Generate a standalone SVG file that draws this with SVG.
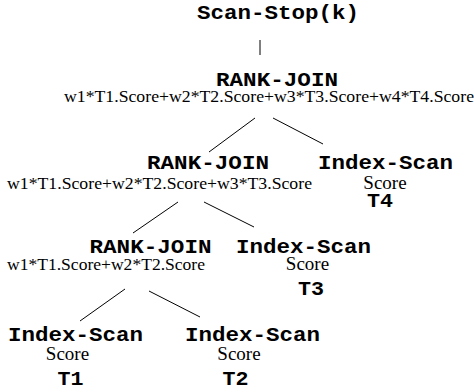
<svg xmlns="http://www.w3.org/2000/svg" width="474" height="392" viewBox="0 0 474 392">
<style>
.m{font-family:"Liberation Mono","Courier New",monospace;font-weight:bold;font-size:20px;fill:#000;text-anchor:middle}
.s{font-family:"Liberation Serif","Times New Roman",serif;font-size:17.6px;fill:#000}
.sc{font-family:"Liberation Serif","Times New Roman",serif;font-size:19px;fill:#000;text-anchor:middle}
.e{stroke:#000;stroke-width:1;fill:none}
</style>
<rect width="474" height="392" fill="#fff"/>
<g id="connectors">
<line class="e" x1="260" y1="40" x2="260" y2="55"/>
<line class="e" x1="255" y1="118" x2="209" y2="152"/>
<line class="e" x1="273" y1="118" x2="323" y2="144"/>
<line class="e" x1="178" y1="202" x2="133" y2="233"/>
<line class="e" x1="204" y1="202" x2="254" y2="227"/>
<line class="e" x1="125" y1="289" x2="80" y2="321"/>
<line class="e" x1="149" y1="291" x2="200" y2="317"/>
</g>
<g id="scanstop"><text class="m" x="278" y="19" textLength="162" lengthAdjust="spacingAndGlyphs">Scan-Stop(k)</text></g>
<g id="rj1">
<text class="m" x="277" y="86" textLength="122" lengthAdjust="spacingAndGlyphs">RANK-JOIN</text>
<text class="s" x="64" y="102" textLength="410" lengthAdjust="spacingAndGlyphs">w1*T1.Score+w2*T2.Score+w3*T3.Score+w4*T4.Score</text>
</g>
<g id="rj2">
<text class="m" x="208" y="169" textLength="122" lengthAdjust="spacingAndGlyphs">RANK-JOIN</text>
<text class="s" x="7" y="189" textLength="305" lengthAdjust="spacingAndGlyphs">w1*T1.Score+w2*T2.Score+w3*T3.Score</text>
</g>
<g id="is4">
<text class="m" x="385.5" y="169" textLength="135" lengthAdjust="spacingAndGlyphs">Index-Scan</text>
<text class="sc" x="385" y="189">Score</text>
<text class="m" x="380" y="207" textLength="26" lengthAdjust="spacingAndGlyphs">T4</text>
</g>
<g id="rj3">
<text class="m" x="150.5" y="253" textLength="122" lengthAdjust="spacingAndGlyphs">RANK-JOIN</text>
<text class="s" x="7" y="270" textLength="198" lengthAdjust="spacingAndGlyphs">w1*T1.Score+w2*T2.Score</text>
</g>
<g id="is3">
<text class="m" x="303.5" y="253" textLength="135" lengthAdjust="spacingAndGlyphs">Index-Scan</text>
<text class="sc" x="307.5" y="270">Score</text>
<text class="m" x="311" y="295" textLength="26" lengthAdjust="spacingAndGlyphs">T3</text>
</g>
<g id="is1">
<text class="m" x="75.5" y="341" textLength="135" lengthAdjust="spacingAndGlyphs">Index-Scan</text>
<text class="sc" x="67.5" y="360">Score</text>
<text class="m" x="70.5" y="385" textLength="26" lengthAdjust="spacingAndGlyphs">T1</text>
</g>
<g id="is2">
<text class="m" x="252.5" y="341" textLength="135" lengthAdjust="spacingAndGlyphs">Index-Scan</text>
<text class="sc" x="239" y="360">Score</text>
<text class="m" x="235.5" y="385" textLength="26" lengthAdjust="spacingAndGlyphs">T2</text>
</g>
</svg>
